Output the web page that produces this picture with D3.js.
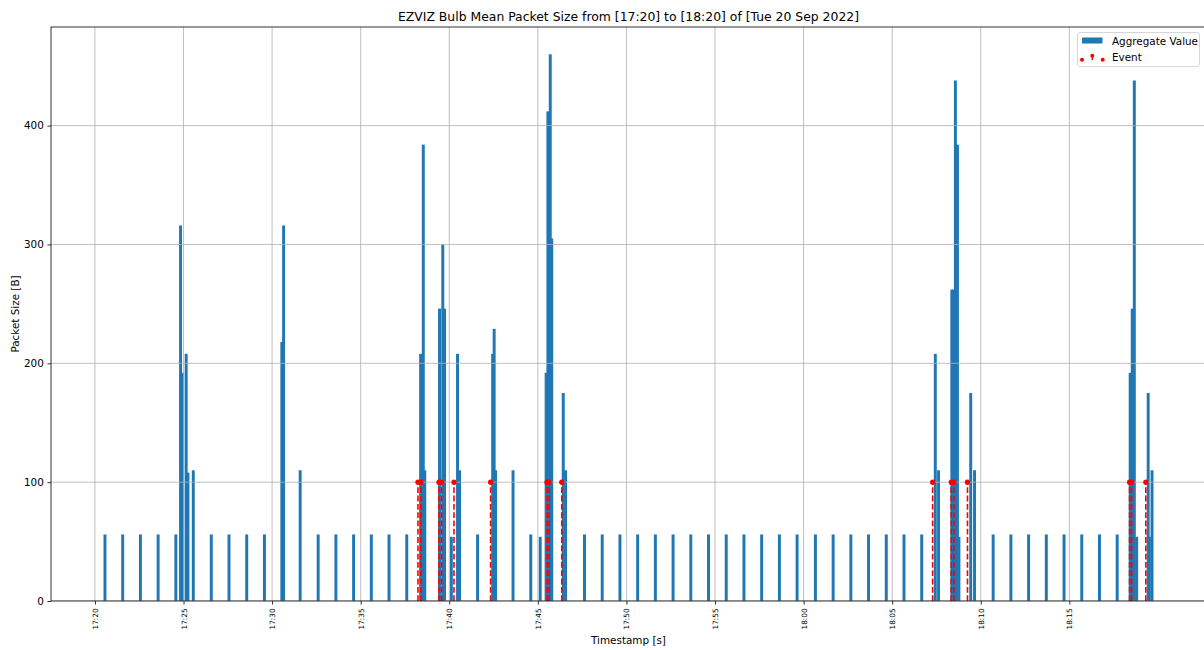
<!DOCTYPE html>
<html lang="en">
<head>
  <meta charset="UTF-8">
  <title>EZVIZ Bulb Mean Packet Size</title>
  <script src="https://d3js.org/d3.v7.min.js"></script>
  <style>
    body { margin: 0; background: #fff; }
    svg { font-family: "DejaVu Sans", sans-serif; }
    .grid line { stroke: #b0b0b0; stroke-width: 0.8px; }
  </style>
</head>
<body>
  <script>
    // day of the capture
    const day = "2022-09-20";

    // aggregated bars (10 s bins): time and mean packet size
    const barTimes = [
      "17:20:34", "17:21:34", "17:22:34", "17:23:34", "17:24:34",
      "17:24:50", "17:24:57", "17:25:09", "17:25:15", "17:25:33",
      "17:26:34", "17:27:34", "17:28:34", "17:29:34",
      "17:30:33", "17:30:39", "17:31:35",
      "17:32:36", "17:33:36", "17:34:36", "17:35:36", "17:36:36", "17:37:36",
      "17:38:23", "17:38:32", "17:38:37",
      "17:39:27", "17:39:38", "17:39:44", "17:40:07", "17:40:28", "17:40:35",
      "17:41:36",
      "17:42:27", "17:42:32", "17:42:37", "17:43:36", "17:44:36",
      "17:45:08", "17:45:28", "17:45:34", "17:45:42", "17:45:47",
      "17:46:26", "17:46:34",
      "17:47:38", "17:48:38", "17:49:38", "17:50:38", "17:51:38", "17:52:38",
      "17:53:38", "17:54:38", "17:55:38", "17:56:38", "17:57:38", "17:58:38",
      "17:59:38", "18:00:40", "18:01:40", "18:02:40", "18:03:40", "18:04:40",
      "18:05:40", "18:06:40",
      "18:07:26", "18:07:37",
      "18:08:22", "18:08:27", "18:08:34", "18:08:41", "18:08:46",
      "18:09:26", "18:09:39",
      "18:10:42", "18:11:42", "18:12:42", "18:13:42", "18:14:42", "18:15:42",
      "18:16:42", "18:17:42",
      "18:18:26", "18:18:33", "18:18:40", "18:18:48",
      "18:19:27", "18:19:31", "18:19:40"
    ];
    const barValues = [
      56, 56, 56, 56, 56,
      316, 192, 208, 108, 110,
      56, 56, 56, 56,
      218, 316, 110,
      56, 56, 56, 56, 56, 56,
      208, 384, 110,
      246, 300, 246, 54, 208, 110,
      56,
      208, 229, 110, 110, 56,
      54, 192, 412, 460, 305,
      175, 110,
      56, 56, 56, 56, 56, 56,
      56, 56, 56, 56, 56, 56,
      56, 56, 56, 56, 56, 56,
      56, 56,
      208, 110,
      262, 262, 438, 384, 54,
      175, 110,
      56, 56, 56, 56, 56, 56,
      56, 56,
      192, 246, 438, 54,
      175, 54, 110
    ];

    // events drawn as stems
    const eventTimes = [
      "17:38:14", "17:38:24", "17:39:25", "17:39:34", "17:40:16",
      "17:42:20", "17:45:31", "17:45:38", "17:46:21",
      "18:07:17", "18:08:20", "18:08:29", "18:09:15",
      "18:18:24", "18:18:31", "18:19:19"
    ];
    const eventValues = [100, 100, 100, 100, 100, 100, 100, 100, 100, 100, 100, 100, 100, 100, 100, 100];

    const xTickLabels = ["17:20", "17:25", "17:30", "17:35", "17:40", "17:45",
                         "17:50", "17:55", "18:00", "18:05", "18:10", "18:15"];
    const yTicks = [0, 100, 200, 300, 400];

    const binSeconds = 10;

    const parseT = d3.timeParse("%Y-%m-%d %H:%M:%S");
    const parseTick = d3.timeParse("%Y-%m-%d %H:%M");
    const bars = barTimes.map((t, i) => ({ t: parseT(day + " " + t), v: barValues[i] }));
    const events = eventTimes.map((t, i) => ({ t: parseT(day + " " + t), v: eventValues[i] }));
    const ticks = xTickLabels.map(s => parseTick(day + " " + s));

    const width = 1204, height = 650;
    const plotL = 51, plotR = 1206, plotT = 27, plotB = 601;

    // autoscale like matplotlib: bar edges + 5% margin, y up to max * 1.05
    const half = binSeconds * 500;
    const lo = d3.min(bars, d => +d.t) - half;
    const hi = d3.max(bars, d => +d.t) + half;
    const pad = (hi - lo) * 0.05;
    const x = d3.scaleTime().domain([new Date(lo - pad), new Date(hi + pad)]).range([plotL, plotR]);
    const y = d3.scaleLinear().domain([0, d3.max(bars, d => d.v) * 1.05]).range([plotB, plotT]);

    const svg = d3.select("body").append("svg")
      .attr("width", width)
      .attr("height", height);

    svg.append("defs").append("clipPath").attr("id", "plot")
      .append("rect").attr("x", plotL).attr("y", plotT)
      .attr("width", plotR - plotL).attr("height", plotB - plotT);

    const plot = svg.append("g").attr("clip-path", "url(#plot)");

    // bars
    plot.append("g").selectAll("rect")
      .data(bars)
      .join("rect")
      .attr("x", d => x(new Date(+d.t - half)))
      .attr("width", d => x(new Date(+d.t + half)) - x(new Date(+d.t - half)))
      .attr("y", d => y(d.v))
      .attr("height", d => y(0) - y(d.v))
      .attr("fill", "#1f77b4");

    // grid (drawn over the bars, as in the source)
    const grid = plot.append("g").attr("class", "grid");
    grid.selectAll("line.v").data(ticks).join("line").attr("class", "v")
      .attr("x1", d => x(d)).attr("x2", d => x(d))
      .attr("y1", plotT).attr("y2", plotB);
    grid.selectAll("line.h").data(yTicks).join("line").attr("class", "h")
      .attr("x1", plotL).attr("x2", plotR)
      .attr("y1", d => y(d)).attr("y2", d => y(d));

    // events
    const ev = plot.append("g");
    ev.selectAll("line").data(events).join("line")
      .attr("x1", d => x(d.t)).attr("x2", d => x(d.t))
      .attr("y1", y(0)).attr("y2", d => y(d.v))
      .attr("stroke", "red")
      .attr("stroke-width", 1.6)
      .attr("stroke-dasharray", "5.8,2.5");
    ev.selectAll("circle").data(events).join("circle")
      .attr("cx", d => x(d.t)).attr("cy", d => y(d.v))
      .attr("r", 2.6)
      .attr("fill", "red");

    // axes
    const xAxis = svg.append("g")
      .attr("transform", `translate(0,${plotB})`)
      .call(d3.axisBottom(x).tickValues(ticks).tickFormat(d3.timeFormat("%H:%M"))
        .tickSize(3.6).tickSizeOuter(0));
    xAxis.select(".domain").remove();
    xAxis.selectAll(".tick line").attr("stroke", "#000").attr("stroke-width", 0.8);
    xAxis.selectAll(".tick text")
      .attr("font-size", "7.3px")
      .attr("font-family", "DejaVu Sans")
      .attr("fill", "#000")
      .attr("text-anchor", "end")
      .attr("transform", "rotate(-90)")
      .attr("x", -7.4)
      .attr("y", 0)
      .attr("dy", "0.35em");

    const yAxis = svg.append("g")
      .attr("transform", `translate(${plotL},0)`)
      .call(d3.axisLeft(y).tickValues(yTicks).tickSize(3.6).tickSizeOuter(0).tickPadding(3.6));
    yAxis.select(".domain").remove();
    yAxis.selectAll(".tick line").attr("stroke", "#000").attr("stroke-width", 0.8);
    yAxis.selectAll(".tick text")
      .attr("font-size", "10.4px")
      .attr("font-family", "DejaVu Sans")
      .attr("fill", "#000");

    // spines
    svg.append("rect")
      .attr("x", plotL).attr("y", plotT)
      .attr("width", plotR - plotL).attr("height", plotB - plotT)
      .attr("fill", "none").attr("stroke", "#000").attr("stroke-width", 0.8);

    // titles
    svg.append("text")
      .attr("x", 628.5).attr("y", 21)
      .attr("text-anchor", "middle")
      .attr("font-size", "12.4px")
      .text("EZVIZ Bulb Mean Packet Size from [17:20] to [18:20] of [Tue 20 Sep 2022]");

    svg.append("text")
      .attr("x", (plotL + plotR) / 2).attr("y", 644)
      .attr("text-anchor", "middle")
      .attr("font-size", "10.4px")
      .text("Timestamp [s]");

    svg.append("text")
      .attr("transform", `translate(19,${(plotT + plotB) / 2}) rotate(-90)`)
      .attr("text-anchor", "middle")
      .attr("font-size", "10.4px")
      .text("Packet Size [B]");

    // legend
    const lg = svg.append("g");
    lg.append("rect")
      .attr("x", 1077.5).attr("y", 32.5).attr("width", 122).attr("height", 34)
      .attr("rx", 2.5)
      .attr("fill", "#fff").attr("fill-opacity", 0.8)
      .attr("stroke", "#cccccc").attr("stroke-width", 0.8);
    lg.append("rect")
      .attr("x", 1082).attr("y", 37.5).attr("width", 20.5).attr("height", 6)
      .attr("fill", "#1f77b4");
    lg.append("text")
      .attr("x", 1112).attr("y", 44.5)
      .attr("font-size", "10.4px")
      .text("Aggregate Value");
    const legendDots = [[1082, 59.7], [1092.3, 55.7], [1102.7, 59.7]];
    lg.append("line")
      .attr("x1", 1092.3).attr("x2", 1092.3).attr("y1", 55.7).attr("y2", 60)
      .attr("stroke", "red").attr("stroke-width", 1.4);
    lg.selectAll("circle.ld").data(legendDots).join("circle").attr("class", "ld")
      .attr("cx", d => d[0]).attr("cy", d => d[1]).attr("r", 2)
      .attr("fill", "red");
    lg.append("text")
      .attr("x", 1112).attr("y", 61)
      .attr("font-size", "10.4px")
      .text("Event");
  </script>
</body>
</html>
